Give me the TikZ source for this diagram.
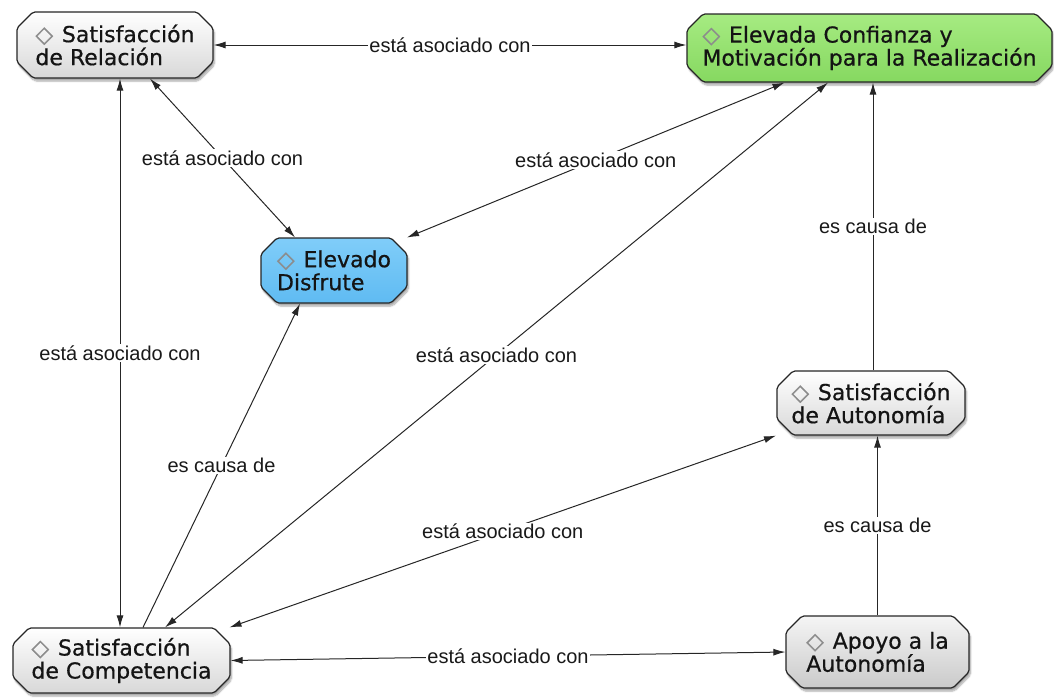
\documentclass[tikz,border=0pt]{standalone}
\usepackage{fontspec}
\newfontfamily\conceptfont[FakeBold=0.6]{DejaVu Sans}
\newfontfamily\edgefont{Liberation Sans}
\usetikzlibrary{arrows.meta,shapes.misc,shadows.blur}

\definecolor{nodeborder}{HTML}{262626}
\definecolor{greentop}{HTML}{A6EB82}
\definecolor{greenbot}{HTML}{86D860}
\definecolor{bluetop}{HTML}{80CDF9}
\definecolor{bluebot}{HTML}{5FBBF2}
\definecolor{graybot}{HTML}{D8D8D8}
\definecolor{darkgraybot}{HTML}{CACACA}

\newcommand{\dmd}{{\color{black!45}\fontsize{23}{23}\selectfont◇}\hspace{0.4em}}

\tikzset{
  concept/.style={chamfered rectangle, chamfered rectangle xsep=8pt,
    chamfered rectangle ysep=8pt, rounded corners=2pt,
    draw=nodeborder, line width=1.2pt, align=left, inner sep=0pt,
    font=\conceptfont\fontsize{22}{23}\selectfont, text=black!92,
    blur shadow={shadow blur steps=6, shadow xshift=1.5pt, shadow yshift=-3pt, shadow opacity=35}},
  plain/.style={concept, top color=white, bottom color=graybot},
  darker/.style={concept, top color=white!96!black, bottom color=darkgraybot},
  green/.style={concept, top color=greentop, bottom color=greenbot},
  blue/.style={concept, top color=bluetop, bottom color=bluebot},
  link/.style={draw=black!85, line width=1pt},
  both/.style={link, {Latex[length=12pt,width=7pt]}-{Latex[length=12pt,width=7pt]}},
  fwd/.style={link, -{Latex[length=12pt,width=7pt]}},
  lbl/.style={fill=white, inner sep=1.5pt, font=\edgefont\fontsize{20}{22}\selectfont, text=black!90}
}

\begin{document}
\begin{tikzpicture}[x=1pt,y=-1pt]
\useasboundingbox (0,0) rectangle (1054,697);

% concepts
\node[plain, minimum width=196pt, minimum height=66pt] (rel) at (115,45)
  {\dmd Satisfacción\\de Relación};
\node[green, minimum width=365pt, minimum height=68pt] (conf) at (869.5,48)
  {\dmd Elevada Confianza y\\Motivación para la Realización};
\node[blue, minimum width=146pt, minimum height=65pt] (dis) at (334,270.5)
  {\dmd Elevado\\Disfrute};
\node[plain, minimum width=188pt, minimum height=64pt] (aut) at (871,403)
  {\dmd Satisfacción\\de Autonomía};
\node[plain, minimum width=217pt, minimum height=65pt] (comp) at (121.5,660.5)
  {\dmd Satisfacción\\de Competencia};
\node[darker, minimum width=183pt, minimum height=72pt] (apoyo) at (877.5,652)
  {\dmd Apoyo a la\\Autonomía};

% links
\draw[both] (rel.east) -- (rel.east -| conf.west)
  node[lbl, pos=0.5] {está asociado con};
\draw[both] ([xshift=35pt]rel.south) -- ([xshift=-39pt]dis.north)
  node[lbl, pos=0.5] {está asociado con};
\draw[both] ([xshift=-85pt]conf.south) -- ([shift={(73pt,33pt)}]dis.center)
  node[lbl, pos=0.5] {está asociado con};
\draw[both] ([xshift=5pt]rel.south) -- ([xshift=-1.5pt]comp.north)
  node[lbl, pos=0.5] {está asociado con};
\draw[fwd] ([xshift=21.5pt]comp.north) -- ([xshift=-34pt]dis.south)
  node[lbl, pos=0.5] {es causa de};
\draw[both] ([xshift=43.5pt]comp.north) -- ([xshift=-41.5pt]conf.south)
  node[lbl, pos=0.5] {está asociado con};
\draw[both] ([xshift=108pt]comp.north) -- ([xshift=-95pt]aut.south)
  node[lbl, pos=0.5] {está asociado con};
\draw[both] (comp.east) -- (apoyo.west)
  node[lbl, pos=0.5] {está asociado con};
\draw[fwd] (apoyo.north) -- (apoyo.north |- aut.south)
  node[lbl, pos=0.5] {es causa de};
\draw[fwd] ([xshift=2pt]aut.north) -- ([xshift=2pt]aut.north |- conf.south)
  node[lbl, pos=0.5] {es causa de};
\end{tikzpicture}
\end{document}
